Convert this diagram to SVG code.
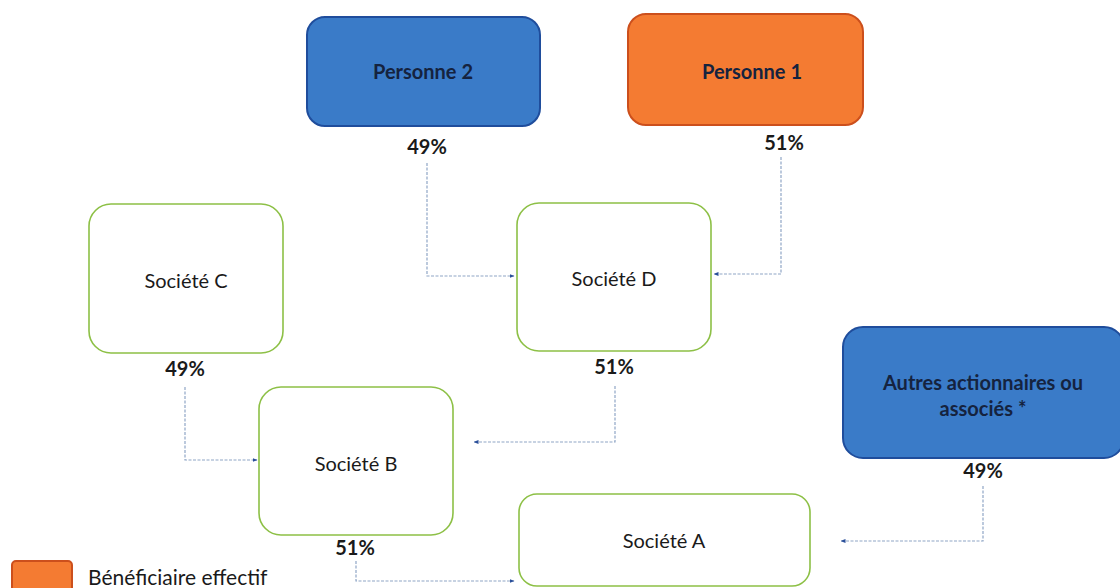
<svg xmlns="http://www.w3.org/2000/svg" width="1120" height="588" viewBox="0 0 1120 588">
<style>
.blue{fill:#3a7bc8;stroke:#1f4d9c;stroke-width:2}
.orange{fill:#f47b32;stroke:#cc4f1c;stroke-width:2}
.soc{fill:#ffffff;stroke:#8dc046;stroke-width:1.6}
.t{font-family:Lato,"Open Sans","Liberation Sans",sans-serif;font-size:20px;fill:#1a1a1a;text-anchor:middle}
.tb{font-family:Lato,"Open Sans","Liberation Sans",sans-serif;font-size:20px;font-weight:bold;fill:#1a1a1a;text-anchor:middle}
.tn{font-family:Lato,"Open Sans","Liberation Sans",sans-serif;font-size:20px;font-weight:bold;fill:#15233f;text-anchor:middle}
.c{fill:none;stroke:#8fa6c6;stroke-width:1.2;stroke-dasharray:3 1.5}
</style>
<defs>
<marker id="ah" viewBox="0 0 10 10" refX="9" refY="5" markerWidth="5" markerHeight="5" orient="auto" markerUnits="userSpaceOnUse">
<path d="M0,1 L10,5 L0,9 z" fill="#2a4f9a"/>
</marker>
</defs>
<rect width="1120" height="588" fill="#ffffff"/>

<g id="personne2">
<rect class="blue" x="307" y="17" width="233" height="109" rx="18"/>
<text class="tn" x="423" y="79">Personne 2</text>
<text class="tb" x="427" y="154">49%</text>
</g>
<g id="personne1">
<rect class="orange" x="628" y="14" width="235" height="111" rx="18"/>
<text class="tn" x="752" y="79">Personne 1</text>
<text class="tb" x="784" y="150">51%</text>
</g>
<g id="societeD">
<rect class="soc" x="517" y="203" width="194" height="148" rx="22"/>
<text class="t" x="614" y="286">Société D</text>
<text class="tb" x="614" y="374">51%</text>
</g>
<g id="societeC">
<rect class="soc" x="89" y="204" width="194" height="149" rx="22"/>
<text class="t" x="186" y="288">Société C</text>
<text class="tb" x="185" y="376">49%</text>
</g>
<g id="societeB">
<rect class="soc" x="259" y="387" width="194" height="148" rx="22"/>
<text class="t" x="356" y="471">Société B</text>
<text class="tb" x="355" y="555">51%</text>
</g>
<g id="societeA">
<rect class="soc" x="519" y="494" width="291" height="92" rx="18"/>
<text class="t" x="664" y="548">Société A</text>
</g>
<g id="autres">
<rect class="blue" x="843" y="327" width="281" height="131" rx="20"/>
<text class="tn" x="983" y="390">Autres actionnaires ou</text>
<text class="tn" x="983" y="416">associés *</text>
<text class="tb" x="983" y="478">49%</text>
</g>
<g id="legend">
<rect class="orange" x="12" y="561" width="60" height="34" rx="4" stroke-width="1"/>
<text class="t" x="88" y="585" style="text-anchor:start;font-size:21px">Bénéficiaire effectif</text>
</g>

<g id="connectors">
<path class="c" d="M427,163 V276 H514" marker-end="url(#ah)"/>
<path class="c" d="M781,157 V274 H714" marker-end="url(#ah)"/>
<path class="c" d="M615,386 V442 H474" marker-end="url(#ah)"/>
<path class="c" d="M185,387 V460 H257" marker-end="url(#ah)"/>
<path class="c" d="M356,561 V581 H514" marker-end="url(#ah)"/>
<path class="c" d="M983,486 V541 H841" marker-end="url(#ah)"/>
</g>
</svg>
